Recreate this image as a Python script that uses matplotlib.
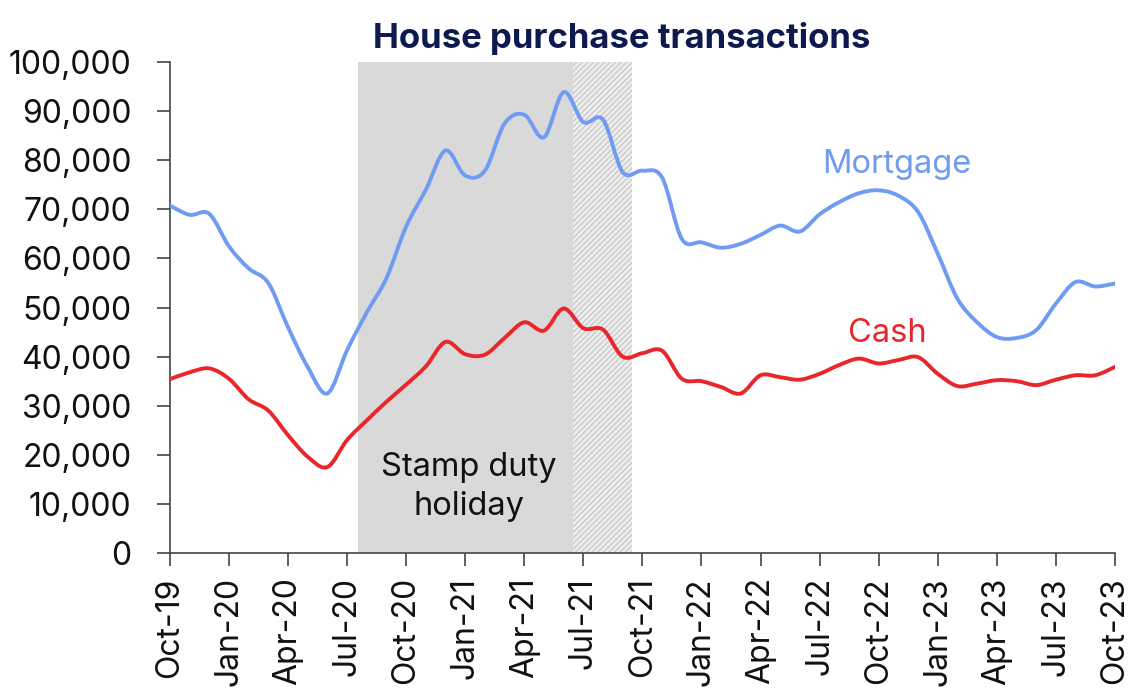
"""House purchase transactions: mortgage vs cash, Oct-19 to Oct-23, with stamp duty holiday shading."""

import matplotlib
matplotlib.use("Agg")
import matplotlib.pyplot as plt
from matplotlib.path import Path
from matplotlib.patches import PathPatch
from matplotlib.ticker import FuncFormatter

# monthly values (thousands), month 0 = Oct-19
mortgage = [70.8, 68.9, 69.1, 62.5, 58.0, 55.0, 46.0, 37.9, 32.5, 41.3,
            49.0, 56.0, 66.5, 74.0, 82.0, 76.9, 77.9, 87.5, 89.3, 84.7,
            93.9, 87.8, 88.3, 77.6, 77.9, 76.5, 64.0, 63.3, 62.2, 63.0,
            64.8, 66.7, 65.5, 69.0, 71.5, 73.3, 73.9, 72.8, 69.5, 61.0,
            51.8, 47.0, 44.0, 43.8, 45.4, 50.8, 55.2, 54.3, 54.9]
cash = [35.4, 36.8, 37.6, 35.5, 31.3, 29.0, 24.0, 19.6, 17.5, 23.0,
        27.0, 30.8, 34.3, 38.0, 43.0, 40.5, 40.4, 43.8, 47.0, 45.3,
        49.8, 45.8, 45.5, 40.0, 40.7, 41.2, 35.5, 35.0, 33.8, 32.5,
        36.2, 35.8, 35.3, 36.5, 38.3, 39.6, 38.6, 39.3, 39.9, 36.5,
        34.0, 34.5, 35.2, 35.0, 34.2, 35.3, 36.2, 36.2, 37.9]
mortgage = [v * 1000 for v in mortgage]
cash = [v * 1000 for v in cash]
months = list(range(len(mortgage)))

tick_labels = ["Oct-19", "Jan-20", "Apr-20", "Jul-20", "Oct-20", "Jan-21",
               "Apr-21", "Jul-21", "Oct-21", "Jan-22", "Apr-22", "Jul-22",
               "Oct-22", "Jan-23", "Apr-23", "Jul-23", "Oct-23"]

# stamp duty holiday (full) and taper, in months since Oct-19
holiday = (9.55, 20.47)
taper = (20.47, 23.46)

BLUE = "#6f9cf2"
RED = "#e8262b"
FONT = "Inter"


def smooth_path(xs, ys):
    # Catmull-Rom style smoothed line, like a spreadsheet "smoothed line"
    pts = list(zip(xs, ys))
    verts = [pts[0]]
    codes = [Path.MOVETO]
    n = len(pts)
    for i in range(n - 1):
        p0 = pts[max(i - 1, 0)]
        p1 = pts[i]
        p2 = pts[i + 1]
        p3 = pts[min(i + 2, n - 1)]
        c1 = (p1[0] + (p2[0] - p0[0]) / 6, p1[1] + (p2[1] - p0[1]) / 6)
        c2 = (p2[0] - (p3[0] - p1[0]) / 6, p2[1] - (p3[1] - p1[1]) / 6)
        verts += [c1, c2, p2]
        codes += [Path.CURVE4] * 3
    return Path(verts, codes)


plt.rcParams["font.family"] = [FONT, "DejaVu Sans"]
plt.rcParams["hatch.linewidth"] = 0.8
plt.rcParams["hatch.color"] = "#c4c4c4"

fig = plt.figure(figsize=(11.4, 6.99), dpi=100)
ax = fig.add_axes([0.149, 0.209, 0.829, 0.702])

ax.axvspan(*holiday, facecolor="#d9d9d9", edgecolor="none", zorder=0)
ax.axvspan(*taper, facecolor="#ededed", edgecolor="#c4c4c4", hatch="//////",
           linewidth=0, zorder=0)

for ys, col in [(mortgage, BLUE), (cash, RED)]:
    ax.add_patch(PathPatch(smooth_path(months, ys), fill=False, edgecolor=col,
                           lw=2.8, capstyle="round", joinstyle="round", zorder=3))

ax.set_xlim(0, 48)
ax.set_ylim(0, 100000)
ax.set_xticks(range(0, 49, 3))
ax.set_xticklabels(tick_labels, rotation=90)
ax.set_yticks(range(0, 100001, 10000))
ax.yaxis.set_major_formatter(FuncFormatter(lambda v, p: f"{int(v):,}"))
ax.tick_params(axis="both", labelsize=23, color="#444444", width=1.2,
               length=9.5, direction="out", labelcolor="#111111")
ax.tick_params(axis="y", pad=18)
ax.tick_params(axis="x", pad=8)
for s in ["top", "right"]:
    ax.spines[s].set_visible(False)
for s in ["left", "bottom"]:
    ax.spines[s].set_color("#444444")
    ax.spines[s].set_linewidth(1.2)

ax.text(33.15, 77500, "Mortgage", color=BLUE, fontsize=23.5, va="baseline")
ax.text(34.43, 42900, "Cash", color=RED, fontsize=23.5, va="baseline")
ax.text(15.2, 13400, "Stamp duty\nholiday", ha="center", va="center",
        fontsize=23.5, color="#111111", linespacing=1.35)

fig.text(0.545, 0.932, "House purchase transactions", ha="center",
         va="baseline", fontsize=25, fontweight="bold", color="#0c1a4f")

fig.savefig("out.png", dpi=100)
